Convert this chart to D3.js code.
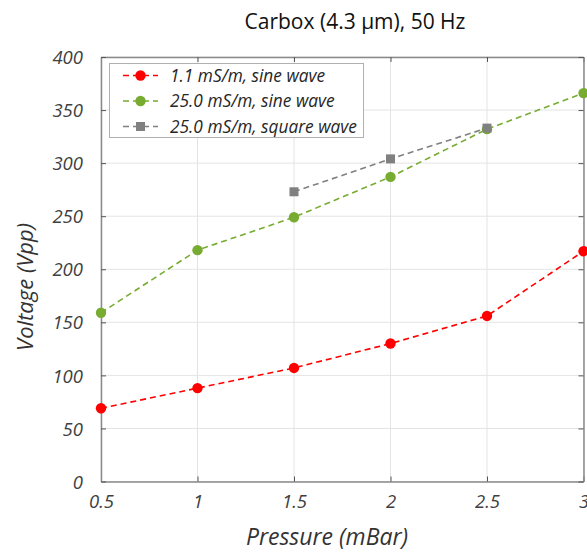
<!DOCTYPE html>
<html>
<head>
<meta charset="utf-8">
<script src="https://cdn.jsdelivr.net/npm/d3@7"></script>
<style>
  html, body { margin: 0; padding: 0; background: #fff; }
  svg { display: block; font-family: "Open Sans", "Noto Sans", sans-serif; }
</style>
</head>
<body>
<svg id="chart" width="587" height="552"></svg>
<script>
// Pressure sweep (mBar) and measured peak-to-peak voltage
const pressure = [0.5, 1, 1.5, 2, 2.5, 3];
const sine11 = [69, 88, 107, 130, 156, 217];
const sine250 = [159, 218, 249, 287, 332, 366];
const squarePressure = [1.5, 2, 2.5];
const square250 = [273, 304, 333];

const xTicks = [0.5, 1, 1.5, 2, 2.5, 3];
const yTicks = [0, 50, 100, 150, 200, 250, 300, 350, 400];

const seriesNames = ["1.1 mS/m, sine wave", "25.0 mS/m, sine wave", "25.0 mS/m, square wave"];
const seriesColors = ["#ff0000", "#77ac30", "#808080"];
const seriesShapes = ["circle", "circle", "square"];

const series = [
  { name: seriesNames[0], color: seriesColors[0], shape: seriesShapes[0], x: pressure, y: sine11 },
  { name: seriesNames[1], color: seriesColors[1], shape: seriesShapes[1], x: pressure, y: sine250 },
  { name: seriesNames[2], color: seriesColors[2], shape: seriesShapes[2], x: squarePressure, y: square250 }
];

const svg = d3.select("#chart");
const m = { left: 101, right: 583.5, top: 57, bottom: 481.5 };

const x = d3.scaleLinear().domain([0.5, 3]).range([m.left, m.right]);
const y = d3.scaleLinear().domain([0, 400]).range([m.bottom, m.top]);

// Grid
const grid = svg.append("g");
grid.selectAll("line.gx").data(xTicks).join("line")
  .attr("x1", d => x(d)).attr("x2", d => x(d))
  .attr("y1", m.top).attr("y2", m.bottom)
  .attr("stroke", "#e4e4e4").attr("stroke-width", 1);
grid.selectAll("line.gy").data(yTicks).join("line")
  .attr("x1", m.left).attr("x2", m.right)
  .attr("y1", d => y(d)).attr("y2", d => y(d))
  .attr("stroke", "#e4e4e4").attr("stroke-width", 1);

// Axes with inward ticks on all four sides
const axisStyle = g => {
  g.select(".domain").attr("stroke", "#8a8a8a").attr("stroke-width", 1.5);
  g.selectAll(".tick line").attr("stroke", "#555").attr("stroke-width", 1);
};
const labelFont = g => g.selectAll(".tick text")
  .attr("font-size", 18.5).attr("font-style", "italic").attr("fill", "#404040")
  .attr("font-family", "'Open Sans', 'Noto Sans', sans-serif");

svg.append("g").attr("transform", `translate(0,${m.bottom})`)
  .call(d3.axisBottom(x).tickValues(xTicks).tickFormat(d3.format("")).tickSizeInner(-5).tickSizeOuter(0).tickPadding(13))
  .call(axisStyle).call(labelFont)
  .selectAll(".tick text").attr("dy", "0.71em");
svg.append("g").attr("transform", `translate(0,${m.top})`)
  .call(d3.axisTop(x).tickValues(xTicks).tickFormat("").tickSizeInner(-5).tickSizeOuter(0))
  .call(axisStyle);
svg.append("g").attr("transform", `translate(${m.left},0)`)
  .call(d3.axisLeft(y).tickValues(yTicks).tickSizeInner(-5).tickSizeOuter(0).tickPadding(18))
  .call(axisStyle).call(labelFont)
  .selectAll(".tick text").attr("dy", "0.36em");
svg.append("g").attr("transform", `translate(${m.right},0)`)
  .call(d3.axisRight(y).tickValues(yTicks).tickFormat("").tickSizeInner(-5).tickSizeOuter(0))
  .call(axisStyle);

// Series
const line = d3.line().x(d => x(d[0])).y(d => y(d[1]));
const drawMarker = (sel, shape, color, cx, cy) => {
  if (shape === "circle") {
    sel.append("circle").attr("cx", cx).attr("cy", cy).attr("r", 5.2).attr("fill", color);
  } else {
    sel.append("rect").attr("x", cx - 4.5).attr("y", cy - 4.5).attr("width", 9).attr("height", 9).attr("fill", color);
  }
};
series.forEach(s => {
  const pts = s.x.map((v, i) => [v, s.y[i]]);
  svg.append("path").datum(pts).attr("d", line)
    .attr("fill", "none").attr("stroke", s.color).attr("stroke-width", 1.6)
    .attr("stroke-dasharray", "6,4");
  const g = svg.append("g");
  pts.forEach(p => drawMarker(g, s.shape, s.color, x(p[0]), y(p[1])));
});

// Legend
const lg = svg.append("g");
lg.append("rect").attr("x", 109.5).attr("y", 63.5).attr("width", 254).attr("height", 74)
  .attr("fill", "#fff").attr("stroke", "#b0b0b0").attr("stroke-width", 1);
series.forEach((s, i) => {
  const cy = 75.5 + i * 25.5;
  lg.append("line").attr("x1", 123).attr("x2", 158).attr("y1", cy).attr("y2", cy)
    .attr("stroke", s.color).attr("stroke-width", 1.6).attr("stroke-dasharray", "6,4");
  drawMarker(lg, s.shape, s.color, 140.5, cy);
  lg.append("text").attr("x", 170).attr("y", cy).attr("dy", "0.36em")
    .attr("font-size", 17.3).attr("font-style", "italic").attr("fill", "#262626")
    .text(s.name);
});

// Title and axis labels
svg.append("text").attr("x", 355).attr("y", 29).attr("text-anchor", "middle")
  .attr("font-size", 21).attr("fill", "#111").text("Carbox (4.3 µm), 50 Hz");
svg.append("text").attr("x", 327).attr("y", 545).attr("text-anchor", "middle")
  .attr("font-size", 23).attr("font-style", "italic").attr("fill", "#333").text("Pressure (mBar)");
svg.append("text").attr("transform", "translate(33,287) rotate(-90)").attr("text-anchor", "middle")
  .attr("font-size", 22).attr("font-style", "italic").attr("fill", "#333").text("Voltage (Vpp)");
</script>
</body>
</html>
